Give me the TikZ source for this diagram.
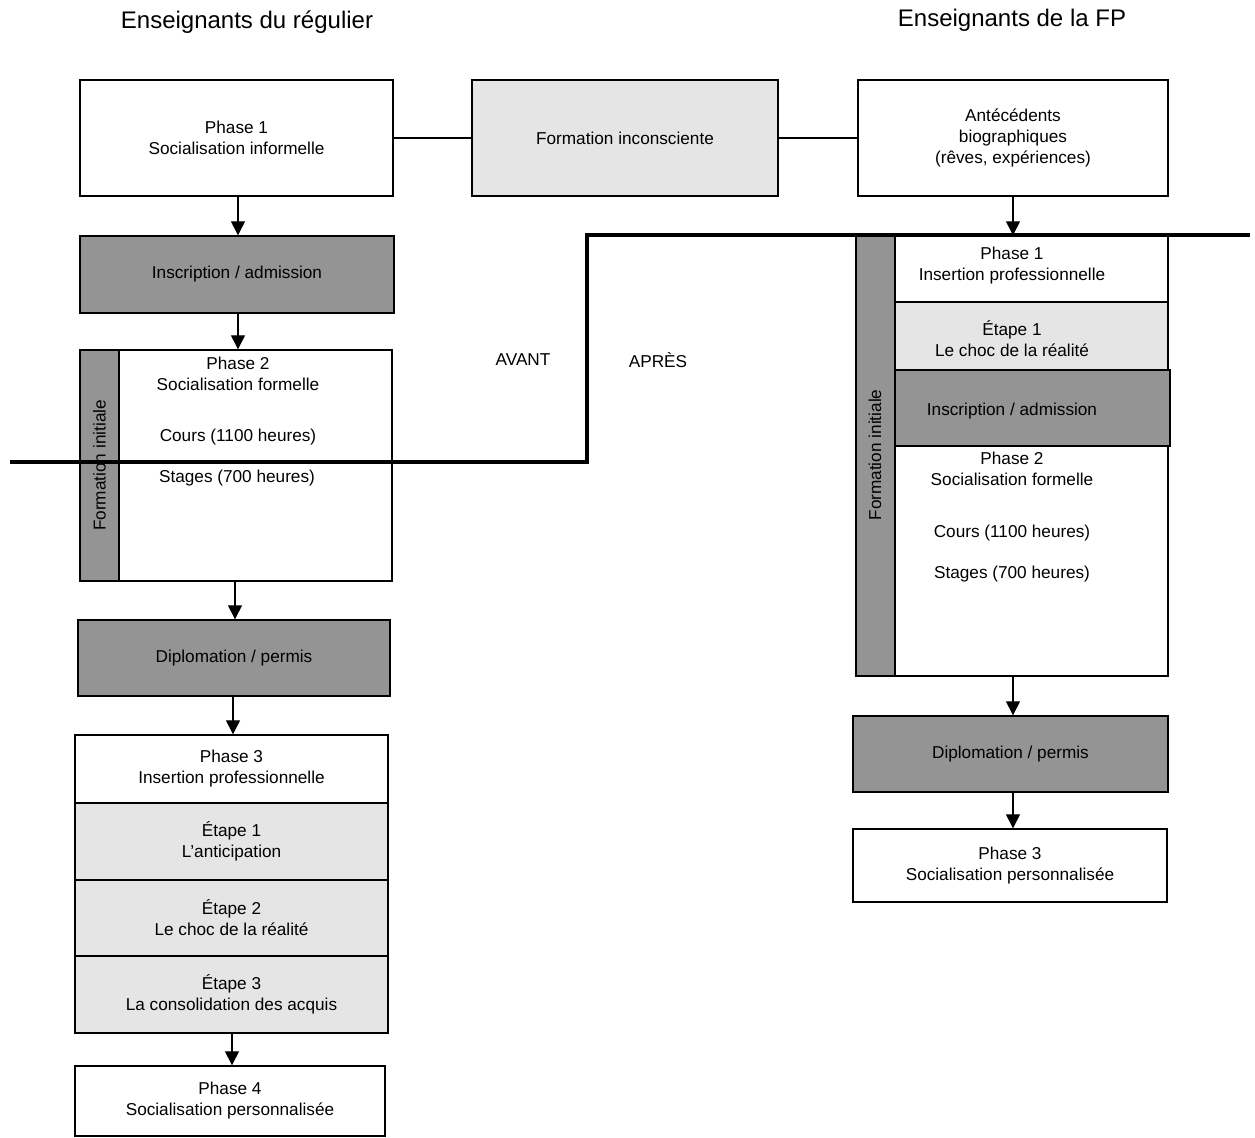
\documentclass[tikz,border=0pt]{standalone}
\usepackage{fontspec}
\setmainfont{Liberation Sans}
\usetikzlibrary{arrows.meta}
\definecolor{darkfill}{gray}{0.58}
\definecolor{lightfill}{gray}{0.90}
\begin{document}
\begin{tikzpicture}[x=0.5pt,y=-0.5pt,
  box/.style={draw=black,line width=0.7pt,rectangle,inner sep=0pt,align=center,
    font=\fontsize{8.6}{10.5}\selectfont},
  darkbox/.style={box,fill=darkfill},
  lightbox/.style={box,fill=lightfill},
  whitebox/.style={box,fill=white},
  txt/.style={inner sep=0pt,align=center,font=\fontsize{8.6}{10.5}\selectfont},
  title/.style={inner sep=0pt,font=\fontsize{12}{14}\selectfont},
  arr/.style={line width=0.7pt,-{Triangle[length=7pt,width=7pt]}},
  link/.style={line width=0.7pt},
  divide/.style={line width=2pt,line join=miter}]
\useasboundingbox (0,0) rectangle (1255,1138);

% column titles
\node[title] (tL) at (247,22) {Enseignants du régulier};
\node[title] (tR) at (1012,20) {Enseignants de la FP};

% top row
\node[whitebox,minimum width=156.5pt,minimum height=58pt] (p1L) at (236.5,138)
  {Phase 1\\Socialisation informelle};
\node[lightbox,minimum width=153pt,minimum height=58pt] (fi) at (625,138)
  {Formation inconsciente};
\node[whitebox,minimum width=155pt,minimum height=58pt] (ant) at (1013,138)
  {Antécédents\\biographiques\\(rêves, expériences)};
\draw[link] (p1L) -- (fi);
\draw[link] (fi) -- (ant);

% left column
\node[darkbox,minimum width=157pt,minimum height=38.5pt] (insL) at (237,274.5)
  {Inscription / admission};
\node[darkbox,minimum width=19.5pt,minimum height=115.5pt] (stripL) at (99.5,465.5) {};
\node[whitebox,minimum width=136.5pt,minimum height=115.5pt] (p2L) at (255.5,465.5) {};
\node[txt,rotate=90] (fiL) at (stripL) {Formation initiale};
\node[txt] (p2Lt) at (238,373.5) {Phase 2\\Socialisation formelle};
\node[txt] (coursL) at (238,437) {Cours (1100 heures)};
\node[txt] (stagesL) at (237,478) {Stages (700 heures)};
\node[darkbox,minimum width=156pt,minimum height=38pt] (dipL) at (234,658)
  {Diplomation / permis};
\node[whitebox,minimum width=156.5pt,minimum height=34pt] (p3L) at (231.5,769)
  {Phase 3\\Insertion professionnelle};
\node[lightbox,minimum width=156.5pt,minimum height=38.5pt] (e1L) at (231.5,841.5)
  {Étape 1\\L’anticipation};
\node[lightbox,minimum width=156.5pt,minimum height=38pt] (e2L) at (231.5,918)
  {Étape 2\\Le choc de la réalité};
\node[lightbox,minimum width=156.5pt,minimum height=38.5pt] (e3L) at (231.5,994.5)
  {Étape 3\\La consolidation des acquis};
\node[whitebox,minimum width=155pt,minimum height=35pt] (p4L) at (230,1101)
  {Phase 4\\Socialisation personnalisée};

\draw[arr] (p1L.south -| 238,0) -- (insL.north -| 238,0);
\draw[arr] (insL.south -| 238,0) -- (p2L.north -| 238,0);
\draw[arr] (p2L.south -| 235,0) -- (dipL.north -| 235,0);
\draw[arr] (dipL.south -| 233,0) -- (p3L.north -| 233,0);
\draw[arr] (e3L.south -| 232,0) -- (p4L.north -| 232,0);

% right column
\node[darkbox,minimum width=19.5pt,minimum height=220pt] (stripR) at (875.5,456) {};
\node[whitebox,minimum width=136.5pt,minimum height=33pt] (p1R) at (1031.5,269) {};
\node[lightbox,minimum width=136.5pt,minimum height=34pt] (e1R) at (1031.5,336) {};
\node[darkbox,minimum width=137.5pt,minimum height=38pt] (insR) at (1032.5,408) {};
\node[whitebox,minimum width=136.5pt,minimum height=115pt] (p2R) at (1031.5,561) {};
\node[txt,rotate=90] (fiR) at (875,455) {Formation initiale};
\node[txt] (p1Rt) at (1012,266) {Phase 1\\Insertion professionnelle};
\node[txt] (e1Rt) at (1012,339) {Étape 1\\Le choc de la réalité};
\node[txt] (insRt) at (1012,411) {Inscription / admission};
\node[txt] (p2Rt) at (1012,469) {Phase 2\\Socialisation formelle};
\node[txt] (coursR) at (1012,533) {Cours (1100 heures)};
\node[txt] (stagesR) at (1012,574) {Stages (700 heures)};
\node[darkbox,minimum width=157.5pt,minimum height=38pt] (dipR) at (1010.5,754)
  {Diplomation / permis};
\node[whitebox,minimum width=157pt,minimum height=36.5pt] (p3R) at (1010,865.5)
  {Phase 3\\Socialisation personnalisée};

\draw[arr] (ant.south -| 1013,0) -- (p1R.north -| 1013,0);
\draw[arr] (p2R.south -| 1013,0) -- (dipR.north -| 1013,0);
\draw[arr] (dipR.south -| 1013,0) -- (p3R.north -| 1013,0);

% before / after divide
\node[txt] (avant) at (523,360) {AVANT};
\node[txt] (apres) at (658,360) {APRÈS};
\coordinate (dA) at (10,462);
\coordinate (dB) at (587,462);
\coordinate (dC) at (587,235);
\coordinate (dD) at (1250,235);
\draw[divide] (dA) -- (dB) -- (dC) -- (dD);
\end{tikzpicture}
\end{document}
